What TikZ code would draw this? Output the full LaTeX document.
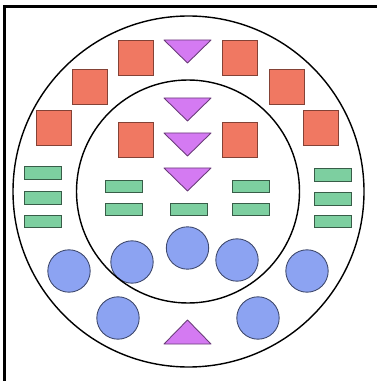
\documentclass[tikz,border=0pt]{standalone}
\usetikzlibrary{positioning}
\definecolor{boxred}{HTML}{F07862}
\definecolor{triviolet}{HTML}{D47AF2}
\definecolor{barmint}{HTML}{7DCFA0}
\definecolor{dotblue}{HTML}{8CA3F2}
\tikzset{
    mybox/.style={fill=boxred,draw=boxred!55!black,line width=0.5pt},
    mytri/.style={fill=triviolet,draw=triviolet!50!black,line width=0.5pt,line join=round},
    mybar/.style={fill=barmint,draw=barmint!45!black,line width=0.5pt},
    mydot/.style={fill=dotblue,draw=dotblue!45!black,line width=0.5pt},
    myring/.style={draw=black,line width=0.8pt},
    myframe/.style={draw=black,line width=1.2pt}
}
\begin{document}
\begin{tikzpicture}[x=0.02cm,y=-0.02cm]
  \useasboundingbox (0,0) rectangle (377,381);

  % Rahmen (nur links und oben sichtbar)
  \coordinate (F1) at (4.5,381);
  \coordinate (F2) at (4.5,6.5);
  \coordinate (F3) at (377,6.5);
  \draw[myframe] (F1)--(F2)--(F3);

  % Mittelpunkte der Ringe
  \coordinate (M1) at (188.5,191.5);
  \coordinate (M2) at (188,191.5);

  % Quadrate
  \foreach \cx/\cy in {135.5/57.5,240/57.5,89.5/87,286.5/87,54/128,321/128,135.5/139.5,240/139.5}{
    \draw[mybox] (\cx-17.5,\cy-17.5) rectangle ++(35,35);
  }

  % Dreiecke nach unten
  \foreach \ty in {40,98,133,168}{
    \draw[mytri] (164,\ty) -- (211,\ty) -- (187.5,\ty+23) -- cycle;
  }

  % Dreieck nach oben
  \draw[mytri] (164,344) -- (211,344) -- (187.5,320) -- cycle;

  % Balken
  \foreach \cx/\cy in {42.5/173,42.5/198,42.5/221.5,
                       333/175,333/199,333/221.5,
                       124/186.5,124/209.5,
                       251/186.5,251/209.5,
                       188.5/209.5}{
    \draw[mybar] (\cx-18.5,\cy-6.25) rectangle ++(37,12.5);
  }

  % Kreise
  \foreach \cx/\cy in {187.5/248,132/262,237/260,69/271,307/271,118/318,258/318}{
    \draw[mydot] (\cx,\cy) circle (21.2);
  }

  % Ringe
  \draw[myring] (M1) circle (175.5);
  \draw[myring] (M2) circle (111.5);

\end{tikzpicture}
\end{document}
